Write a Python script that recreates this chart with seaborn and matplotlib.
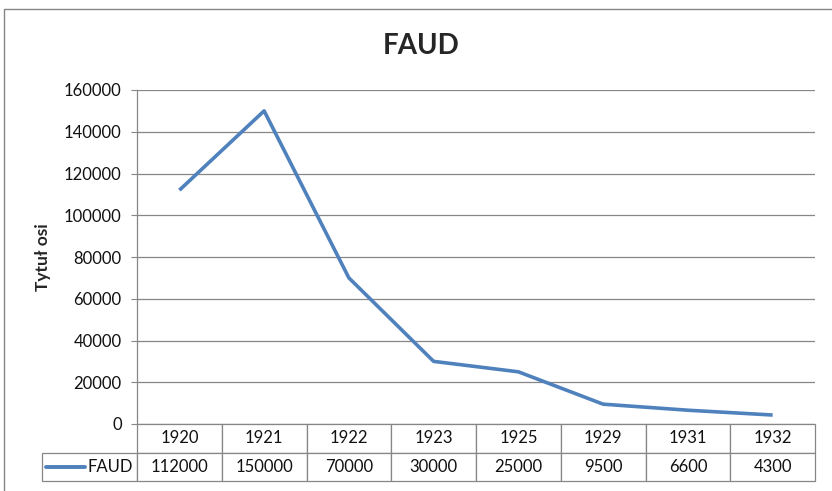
'''
line chart of FAUD membership with a data table below
'''
import matplotlib
matplotlib.use('Agg')
import pandas as pd
import seaborn as sns
import matplotlib.pyplot as plt
from matplotlib.lines import Line2D
from matplotlib.patches import Rectangle

years = ["1920", "1921", "1922", "1923", "1925", "1929", "1931", "1932"]
faud = [112000, 150000, 70000, 30000, 25000, 9500, 6600, 4300]
series_name = "FAUD"
title = "FAUD"
ylabel = "Tytuł osi"

LINE = "#4F81BD"
GRAY = "#868686"


def main():
    sns.set_style("white")
    plt.rcParams['font.family'] = ['Lato', 'DejaVu Sans']

    df = pd.DataFrame({"year": years, "value": faud})

    W, H = 832, 491
    fig = plt.figure(figsize=(W / 100, H / 100), dpi=100)
    # plot area in pixels: left 137, right 815, top 90, bottom 424
    L, R, T, B = 137, 815, 90, 424
    ax = fig.add_axes([L / W, 1 - B / H, (R - L) / W, (B - T) / H])

    sns.lineplot(data=df, x="year", y="value", sort=False, ax=ax,
                 color=LINE, linewidth=2.6, solid_capstyle="butt")

    ax.set_xlim(-0.5, len(years) - 0.5)
    ax.set_ylim(0, 160000)
    ax.set_yticks(range(0, 160001, 20000))
    ax.yaxis.grid(True, color=GRAY, linewidth=0.9)
    ax.set_axisbelow(True)
    for s in ["top", "right", "bottom"]:
        ax.spines[s].set_visible(False)
    ax.spines["left"].set_color(GRAY)
    ax.spines["left"].set_linewidth(0.9)
    ax.tick_params(axis="y", left=True, length=4, color=GRAY,
                   labelsize=12, labelcolor="#111111", pad=7)
    ax.set_xticks([])
    ax.set_xlabel("")
    ax.set_ylabel(ylabel, fontsize=12.5, fontweight="bold", labelpad=9)
    fig.text(421 / W, 1 - 45.5 / H, title, fontsize=20, fontweight="bold",
             ha="center", va="center")

    # data table under the axis
    aw, ah = R - L, B - T
    lab_w = 95
    col_w = aw / len(years)
    row_h = 28.5
    cells = [[""] + years, [series_name] + [str(v) for v in faud]]
    widths = [lab_w / aw] + [col_w / aw] * len(years)
    tbl = ax.table(cellText=cells, colWidths=widths, cellLoc="center",
                   bbox=[-lab_w / aw, -2 * row_h / ah,
                         (lab_w + aw) / aw, 2 * row_h / ah])
    tbl.auto_set_font_size(False)
    tbl.set_fontsize(12)
    for (r, c), cell in tbl.get_celld().items():
        cell.set_edgecolor(GRAY)
        cell.set_linewidth(0.9)
        cell.get_text().set_color("#111111")
    tbl[0, 0].visible_edges = ""
    tbl[1, 0].get_text().set_ha("right")
    tbl[1, 0].PAD = 0.04

    # legend key inside the series label cell
    ky = -1.5 * row_h / ah
    ax.add_line(Line2D([-(lab_w - 4) / aw, -(lab_w - 43) / aw], [ky, ky],
                       transform=ax.transAxes, color=LINE, linewidth=2.8,
                       clip_on=False))

    # outer chart frame (only left and top visible inside the image)
    fig.add_artist(Rectangle((4 / W, -0.1), 1.2, 1 - 9 / H + 0.1,
                             transform=fig.transFigure, fill=False,
                             edgecolor=GRAY, linewidth=1.0))

    fig.savefig("out.png", dpi=100)


if __name__ == "__main__":
    main()
